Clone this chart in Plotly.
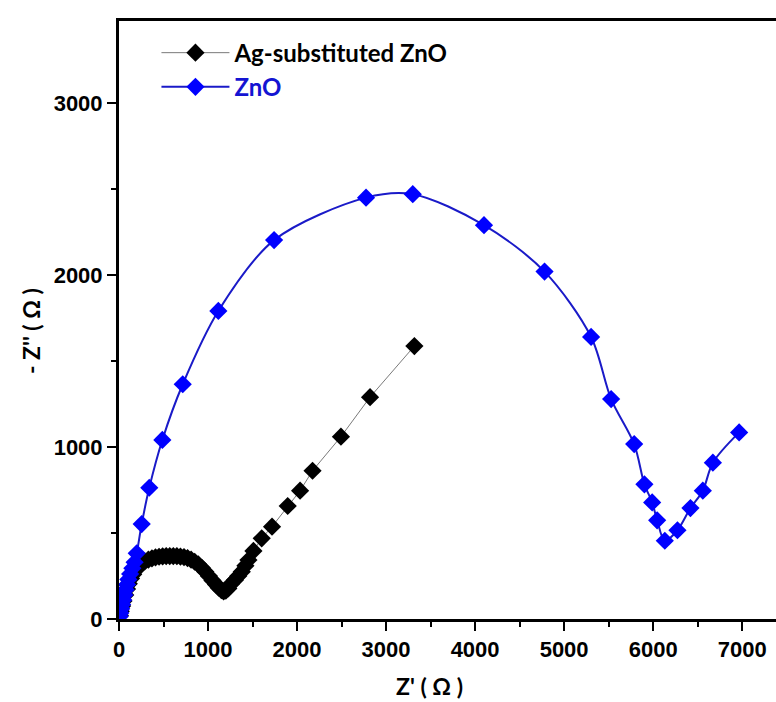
import plotly.graph_objects as go

# Ag-substituted ZnO (Z', -Z'')
ag_x = [10, 20, 35, 50, 70, 90, 110, 135, 160, 190, 220, 255, 290, 330, 370, 410, 450, 490,
        530, 570, 610, 650, 690, 730, 770, 810, 850, 890, 930, 970, 1010, 1050, 1090, 1120,
        1150, 1175, 1200, 1228, 1260, 1303, 1340, 1379, 1420, 1454, 1510, 1603, 1719, 1895,
        2034, 2174, 2493, 2820, 3318]
ag_y = [20, 45, 75, 105, 140, 175, 205, 235, 260, 285, 305, 322, 335, 345, 352, 358, 362, 364,
        366, 366, 366, 365, 363, 360, 354, 345, 333, 318, 298, 275, 250, 224, 200, 182,
        168, 160, 165, 178, 205, 227, 250, 275, 310, 343, 396, 469, 537, 657,
        746, 862, 1060, 1290, 1587]

# ZnO (Z', -Z'')
zno_x = [8, 15, 25, 35, 48, 60, 75, 90, 105, 125, 150, 175, 199, 255, 340, 487, 716, 1116,
         1742, 2775, 3300, 4100, 4780, 5303, 5528, 5787, 5902, 5989, 6045, 6131, 6273, 6419,
         6558, 6671, 6966]
zno_y = [15, 35, 60, 85, 110, 140, 170, 200, 230, 262, 295, 330, 382, 552, 763, 1041, 1365, 1791,
         2203, 2450, 2470, 2290, 2020, 1640, 1279, 1017, 783, 678, 574, 455, 516, 645,
         746, 909, 1085]

x_ticks = [0, 1000, 2000, 3000, 4000, 5000, 6000, 7000]
y_ticks = [0, 1000, 2000, 3000]

fig = go.Figure()
fig.add_trace(go.Scatter(
    x=ag_x, y=ag_y, mode="lines+markers", name="Ag-substituted ZnO",
    legendgroup="a",
    line=dict(color="#7a7a7a", width=1),
    marker=dict(symbol="diamond", size=14, color="black"),
))
fig.add_trace(go.Scatter(
    x=zno_x, y=zno_y, mode="lines+markers",
    name="<span style='color:#1414d2'>ZnO</span>",
    legendgroup="b",
    line=dict(color="#1a1ac8", width=2, shape="spline", smoothing=0.9),
    marker=dict(symbol="diamond", size=14, color="#0000ff"),
))

axis_font = dict(family="Liberation Sans, Arial", size=22, color="black", weight="bold")
title_font = dict(family="Lato, Liberation Sans, sans-serif", size=23, color="black", weight="bold")

fig.update_layout(
    width=776, height=702,
    margin=dict(l=119, r=0, t=21, b=83),
    paper_bgcolor="white", plot_bgcolor="white",
    showlegend=True,
    legend=dict(
        x=0.057, y=0.984, xanchor="left", yanchor="top",
        font=dict(family="Lato, Open Sans, sans-serif", size=24, color="black", weight="bold"),
        itemwidth=68, traceorder="grouped", tracegroupgap=0,
        bgcolor="rgba(0,0,0,0)",
    ),
    xaxis=dict(
        range=[0, 7380], tickvals=x_ticks, ticktext=[str(v) for v in x_ticks],
        showgrid=False, zeroline=False,
        showline=True, linecolor="black", linewidth=3, mirror=True,
        ticks="outside", ticklen=9, tickwidth=2, tickcolor="black",
        minor=dict(dtick=500, ticks="outside", ticklen=5, tickwidth=2, tickcolor="black"),
        tickfont=axis_font,
    ),
    yaxis=dict(
        range=[0, 3477], tickvals=y_ticks, ticktext=[str(v) for v in y_ticks],
        showgrid=False, zeroline=False,
        showline=True, linecolor="black", linewidth=3,
        ticks="outside", ticklen=9, tickwidth=2, tickcolor="black",
        minor=dict(dtick=500, ticks="outside", ticklen=5, tickwidth=2, tickcolor="black"),
        tickfont=axis_font,
    ),
    annotations=[
        dict(text="Z' ( Ω )", xref="paper", yref="paper", x=0.473, y=-0.112,
             xanchor="center", yanchor="middle", showarrow=False, font=title_font),
        dict(text="- Z'' ( Ω )", xref="paper", yref="paper", x=-0.135, y=0.482,
             xanchor="center", yanchor="middle", showarrow=False, textangle=-90, font=title_font),
    ],
)

fig.write_html("out.html")
